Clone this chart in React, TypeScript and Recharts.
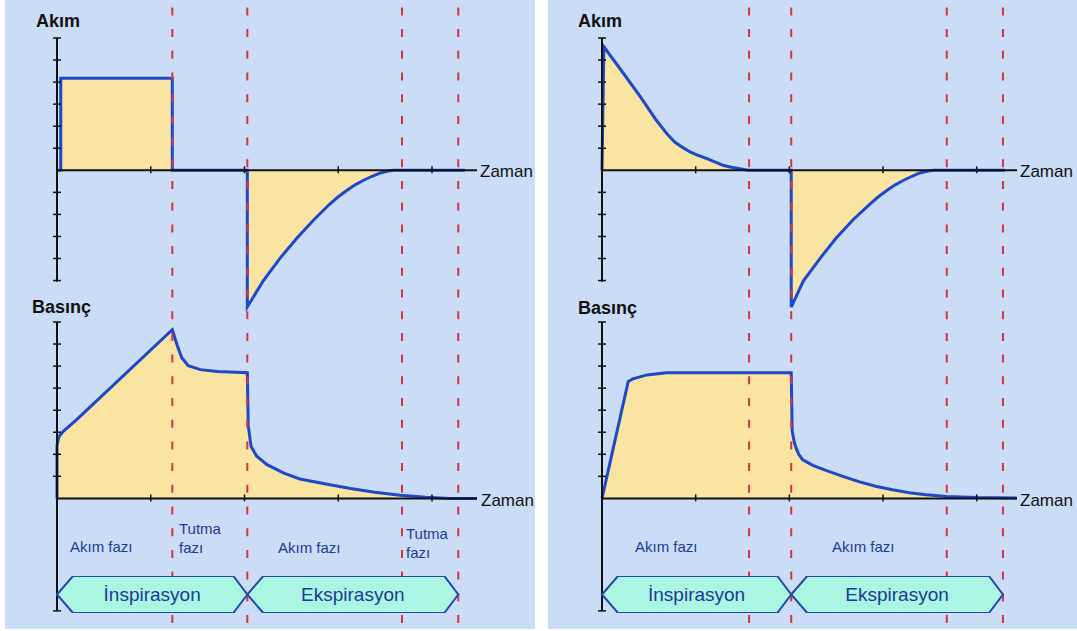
import React from 'react';
import {
  ComposedChart,
  Area,
  Line,
  XAxis,
  YAxis,
  ReferenceLine,
  ReferenceDot,
  ReferenceArea,
} from 'recharts';

type Pt = [number, number];

// Volume-controlled breath: flow (Akım) and airway pressure (Basınç) over time
const vcFlow: Pt[] = [
  [0, 0], [0.04, 0], [0.04, 4.17], [1.23, 4.17], [1.23, 0], [2.03, 0],
  [2.03, -6.2], [2.2, -5.01], [2.38, -3.98], [2.56, -3.07], [2.74, -2.24],
  [2.91, -1.53], [3.0, -1.2], [3.09, -0.92], [3.18, -0.66], [3.27, -0.45],
  [3.36, -0.27], [3.45, -0.12], [3.52, -0.04], [3.59, 0], [4.35, 0],
];
const vcPressure: Pt[] = [
  [0, 0], [0, 2.4], [0.02, 2.8], [0.07, 3.05], [0.21, 3.57], [1.23, 7.65],
  [1.28, 6.97], [1.33, 6.38], [1.4, 6.02], [1.53, 5.84], [1.71, 5.75], [2.03, 5.7],
  [2.04, 3.3], [2.07, 2.35], [2.13, 1.91], [2.24, 1.53], [2.42, 1.15], [2.59, 0.88],
  [2.91, 0.62], [3.13, 0.45], [3.39, 0.28], [3.66, 0.14], [3.93, 0.05], [4.19, 0], [4.48, 0],
];
const vcPhaseLines = [1.23, 2.03, 3.68, 4.28];
const vcPhaseBounds = [0, 2.03, 4.28];

// Pressure-controlled breath
const pcFlow: Pt[] = [
  [0, 0], [0.02, 5.6], [0.23, 4.39], [0.41, 3.33], [0.58, 2.27], [0.7, 1.62],
  [0.78, 1.27], [0.86, 1.04], [0.94, 0.83], [1.03, 0.67], [1.12, 0.53],
  [1.21, 0.37], [1.29, 0.23], [1.38, 0.14], [1.47, 0.07], [1.56, 0], [2.02, 0],
  [2.02, -6.2], [2.15, -5.01], [2.33, -3.98], [2.5, -3.07], [2.68, -2.24],
  [2.86, -1.53], [2.95, -1.2], [3.04, -0.92], [3.13, -0.66], [3.22, -0.45],
  [3.31, -0.27], [3.39, -0.12], [3.47, -0.04], [3.54, 0], [4.3, 0],
];
const pcPressure: Pt[] = [
  [0, 0], [0.28, 5.3], [0.33, 5.42], [0.48, 5.6], [0.69, 5.7], [2.02, 5.7],
  [2.03, 3.08], [2.05, 2.6], [2.07, 2.3], [2.1, 2.0], [2.14, 1.76], [2.25, 1.5],
  [2.39, 1.27], [2.57, 1.0], [2.75, 0.75], [2.92, 0.55], [3.1, 0.39],
  [3.28, 0.26], [3.46, 0.17], [3.68, 0.09], [4.0, 0.04], [4.43, 0.02],
];
const pcPhaseLines = [1.57, 2.02, 3.68, 4.28];
const pcPhaseBounds = [0, 2.02, 4.28];

const phaseNames = ['İnspirasyon', 'Ekspirasyon'];
const flowTicks = [-5, -4, -3, -2, -1, 1, 2, 3, 4, 5, 6];
const pressureTicks = [-5.1, 1, 2, 3, 4, 5, 6, 7, 8];
const timeTicks = [1, 2, 3, 4];

const BG = '#cbdcf6';
const FILL = '#fae4a1';
const CURVE = '#1f48c9';
const AXIS = '#111111';
const DASH = '#d33444';
const LABEL = '#1d3a96';
const FONT = "'Liberation Sans', Arial, Helvetica, sans-serif";

const toRows = (pts: Pt[]) => pts.map(([t, v]) => ({ t, v }));

const YTick = (p: any) => (
  <line x1={p.cx - 4} x2={p.cx + 4} y1={p.cy} y2={p.cy} stroke={AXIS} strokeWidth={1.5} />
);
const XTick = (p: any) => (
  <line x1={p.cx} x2={p.cx} y1={p.cy - 4} y2={p.cy + 3} stroke={AXIS} strokeWidth={1.5} />
);

const Hexagon = (p: any) => {
  const { x, y, width, height } = p;
  const m = y + height / 2;
  const a = 16;
  const b = 14;
  const pts = [
    [x, m], [x + a, y], [x + width - b, y], [x + width, m],
    [x + width - b, y + height], [x + a, y + height],
  ].map((q) => q.join(',')).join(' ');
  return <polygon points={pts} fill="#abf5e3" stroke="#2748a3" strokeWidth={2} />;
};

type WaveProps = {
  rows: { t: number; v: number }[];
  tMax: number;
  plotW: number;
  top: number;
  height: number;
  mTop: number;
  domain: [number, number];
  axisMin: number;
  axisMax: number;
  ticks: number[];
};

const PAD = 10;

function Wave({ rows, tMax, plotW, top, height, mTop, domain, axisMin, axisMax, ticks }: WaveProps) {
  const unit = 22.05;
  const plotH = (domain[1] - domain[0]) * unit;
  return (
    <div style={{ position: 'absolute', left: 0, top }}>
      <ComposedChart
        width={plotW + PAD}
        height={height}
        data={rows}
        margin={{ top: mTop, right: 0, bottom: height - mTop - plotH, left: PAD }}
      >
        <XAxis type="number" dataKey="t" domain={[0, tMax]} hide />
        <YAxis type="number" domain={domain} hide />
        <ReferenceLine
          segment={[{ x: 0, y: axisMin }, { x: 0, y: axisMax }]}
          stroke={AXIS}
          strokeWidth={2}
          ifOverflow="visible"
        />
        <ReferenceLine y={0} stroke={AXIS} strokeWidth={2} />
        <Area
          type="linear"
          dataKey="v"
          baseValue={0}
          stroke={CURVE}
          strokeWidth={3}
          fill={FILL}
          fillOpacity={1}
          dot={false}
          activeDot={false}
          isAnimationActive={false}
        />
        {ticks.map((v) => (
          <ReferenceDot key={`y${v}`} x={0} y={v} r={3} shape={YTick} ifOverflow="visible" />
        ))}
        {timeTicks.map((t) => (
          <ReferenceDot key={`x${t}`} x={t} y={0} r={3} shape={XTick} ifOverflow="visible" />
        ))}
      </ComposedChart>
    </div>
  );
}

type PanelProps = {
  axisX: number;
  tMax: number;
  plotW: number;
  flow: Pt[];
  pressure: Pt[];
  lines: number[];
  bounds: number[];
};

function Panel({ axisX, tMax, plotW, flow, pressure, lines, bounds }: PanelProps) {
  const flowRows = toRows(flow);
  // rows for the overlay charts, kept at a constant level inside [0, 1]
  const guideRows = flowRows.map((r) => ({ t: r.t, g: 0.5 }));
  return (
    <div style={{ position: 'absolute', left: axisX - PAD, top: 0, width: plotW + PAD, height: 631 }}>
      <Wave
        rows={flowRows}
        tMax={tMax}
        plotW={plotW}
        top={0}
        height={320}
        mTop={38}
        domain={[-6.2, 6]}
        axisMin={-5.05}
        axisMax={6}
        ticks={flowTicks}
      />
      <Wave
        rows={toRows(pressure)}
        tMax={tMax}
        plotW={plotW}
        top={300}
        height={330}
        mTop={22}
        domain={[-5.1, 8]}
        axisMin={-5.1}
        axisMax={8}
        ticks={pressureTicks}
      />
      {/* phase boundaries */}
      <div style={{ position: 'absolute', left: 0, top: 0 }}>
        <ComposedChart
          width={plotW + PAD}
          height={631}
          data={guideRows}
          margin={{ top: 0, right: 0, bottom: 8, left: PAD }}
        >
          <XAxis type="number" dataKey="t" domain={[0, tMax]} hide />
          <YAxis type="number" domain={[0, 1]} hide allowDataOverflow />
          <Line dataKey="g" stroke="none" dot={false} activeDot={false} isAnimationActive={false} />
          {lines.map((t) => (
            <ReferenceLine
              key={t}
              x={t}
              stroke={DASH}
              strokeWidth={2}
              strokeDasharray="8 13.7"
            />
          ))}
        </ComposedChart>
      </div>
      {/* inspiration / expiration banners */}
      <div style={{ position: 'absolute', left: 0, top: 576 }}>
        <ComposedChart
          width={plotW + PAD}
          height={37}
          data={guideRows}
          margin={{ top: 0, right: 0, bottom: 0, left: PAD }}
        >
          <XAxis type="number" dataKey="t" domain={[0, tMax]} hide />
          <YAxis type="number" domain={[0, 1]} hide allowDataOverflow />
          <Line dataKey="g" stroke="none" dot={false} activeDot={false} isAnimationActive={false} />
          {phaseNames.map((name, i) => (
            <ReferenceArea
              key={name}
              x1={bounds[i]}
              x2={bounds[i + 1]}
              y1={0}
              y2={1}
              shape={Hexagon}
              ifOverflow="visible"
              label={{
                value: name,
                position: 'center',
                fill: LABEL,
                fontSize: 19,
                fontFamily: FONT,
              }}
            />
          ))}
        </ComposedChart>
      </div>
    </div>
  );
}

const titleStyle = { fontFamily: FONT, fontWeight: 700, fontSize: 18, fill: AXIS } as const;
const axisLabelStyle = { fontFamily: FONT, fontSize: 17, fill: AXIS } as const;
const phaseStyle = { fontFamily: FONT, fontSize: 15, fill: LABEL } as const;

export default function App() {
  return (
    <div
      style={{
        position: 'absolute',
        left: 0,
        top: 0,
        width: 1077,
        height: 631,
        background: '#ffffff',
        overflow: 'hidden',
      }}
    >
      <div style={{ position: 'absolute', left: 5, top: 0, width: 530, height: 629, background: BG }} />
      <div style={{ position: 'absolute', left: 548, top: 0, width: 529, height: 629, background: BG }} />

      <Panel axisX={57} tMax={4.48} plotW={420} flow={vcFlow} pressure={vcPressure} lines={vcPhaseLines} bounds={vcPhaseBounds} />
      <Panel axisX={602} tMax={4.43} plotW={415} flow={pcFlow} pressure={pcPressure} lines={pcPhaseLines} bounds={pcPhaseBounds} />

      <svg width={1077} height={631} style={{ position: 'absolute', left: 0, top: 0, pointerEvents: 'none' }}>
        <text x={36} y={27} {...titleStyle}>Akım</text>
        <text x={32} y={313} {...titleStyle}>Basınç</text>
        <text x={578} y={27} {...titleStyle}>Akım</text>
        <text x={578} y={314} {...titleStyle}>Basınç</text>

        <text x={480} y={177} {...axisLabelStyle}>Zaman</text>
        <text x={481} y={506} {...axisLabelStyle}>Zaman</text>
        <text x={1020} y={177} {...axisLabelStyle}>Zaman</text>
        <text x={1020} y={506} {...axisLabelStyle}>Zaman</text>

        <text x={70} y={552} {...phaseStyle}>Akım fazı</text>
        <text x={179} y={534} {...phaseStyle}>Tutma</text>
        <text x={179} y={553} {...phaseStyle}>fazı</text>
        <text x={278} y={553} {...phaseStyle}>Akım fazı</text>
        <text x={406} y={539} {...phaseStyle}>Tutma</text>
        <text x={406} y={558} {...phaseStyle}>fazı</text>

        <text x={635} y={552} {...phaseStyle}>Akım fazı</text>
        <text x={832} y={552} {...phaseStyle}>Akım fazı</text>
      </svg>
    </div>
  );
}
